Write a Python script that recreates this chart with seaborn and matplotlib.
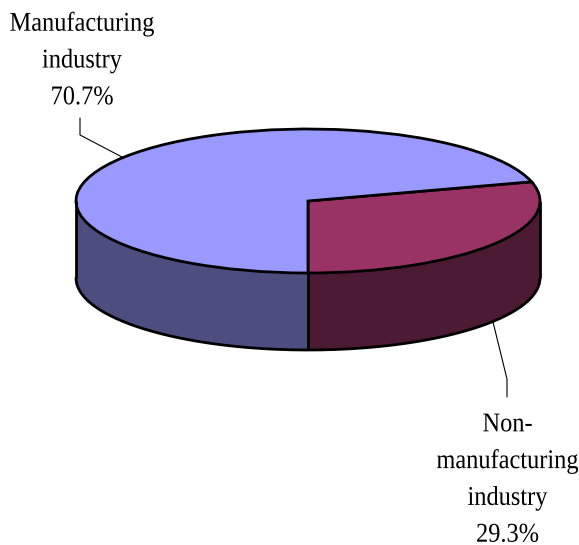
import numpy as np
import seaborn as sns
import matplotlib.pyplot as plt
import matplotlib.patheffects as pe
from matplotlib.transforms import Affine2D

labels = ['Non-\nmanufacturing\nindustry\n29.3%', 'Manufacturing\nindustry\n70.7%']
values = [29.3, 70.7]
top_colors = ['#993366', '#9999FF']
side_colors = ['#4D1A33', '#4D4D80']

# размеры эллипса в пикселях
W, H = 579, 545
cx, cy = 308, 201
a, b = 232, 72
depth = 77 / b

sns.set_theme(style='white')
plt.rcParams['font.family'] = ['Liberation Serif', 'DejaVu Serif']

fig = plt.figure(figsize=(W / 100, H / 100), dpi=100)
ax = fig.add_axes([0, 0, 1, 1])

# углы долей считаем из значений, старт снизу
start = 270
edges = start + np.cumsum([0] + values) * 3.6

# боковая стенка
for i in range(len(values)):
    t = np.linspace(max(edges[i], 180) if edges[i] < 360 else 360, min(edges[i + 1], 360), 100)
    if edges[i] >= 360:
        t = np.linspace(180, 270, 100)
    x = np.cos(np.radians(t))
    y = np.sin(np.radians(t))
    ax.fill_between(x, y, y - depth, color=side_colors[i], lw=0)

# контур стенки
t = np.linspace(180, 360, 200)
x = np.cos(np.radians(t))
y = np.sin(np.radians(t))
ax.plot(x, y - depth, color='black', lw=2)
ax.plot([-1, -1], [0, -depth], color='black', lw=2, solid_capstyle='butt')
ax.plot([1, 1], [0, -depth], color='black', lw=2, solid_capstyle='butt')
ax.plot([0, 0], [-1, -1 - depth], color='black', lw=2, solid_capstyle='butt')

ax.pie(values, startangle=start, colors=top_colors, radius=1,
       wedgeprops={'edgecolor': 'black', 'linewidth': 2})

ax.set_aspect('auto')
ax.set_xlim(-cx / a, (W - cx) / a)
ax.set_ylim((cy - H) / b, cy / b)
ax.axis('off')


def px(x_px, y_px):
    return (x_px - cx) / a, (cy - y_px) / b


# в оригинале буквы стоят плотнее, сжимаем текст по горизонтали
class Squeeze(pe.AbstractPathEffect):
    def __init__(self, center, k, dx=0, dy=0):
        super().__init__()
        self.center = center
        self.k = k
        self.dx = dx
        self.dy = dy

    def draw_path(self, renderer, gc, tpath, affine, rgbFace=None):
        shift = Affine2D().translate(-self.center, 0).scale(self.k, 1).translate(self.center + self.dx, self.dy)
        renderer.draw_path(gc, tpath, affine + shift, rgbFace)


# выноски
ax.plot(*zip(px(122, 157), px(80, 135), px(80, 118)), color='black', lw=0.8)
ax.plot(*zip(px(493, 322), px(507, 379), px(507, 397)), color='black', lw=0.8)

ax.text(*px(82, 61), labels[1], ha='center', va='center', fontsize=19.5,
        color='black', linespacing=1.62, path_effects=[Squeeze(82, 0.9)])
# несжатая рамка текста шире поля, поэтому якорь смещён, а сдвиг в эффекте
ax.text(*px(499, 472), labels[0], ha='center', va='center', fontsize=19.5,
        color='black', linespacing=1.62, path_effects=[Squeeze(499, 0.9, dx=8.5, dy=-8)])

plt.savefig('out.png', dpi=100)
